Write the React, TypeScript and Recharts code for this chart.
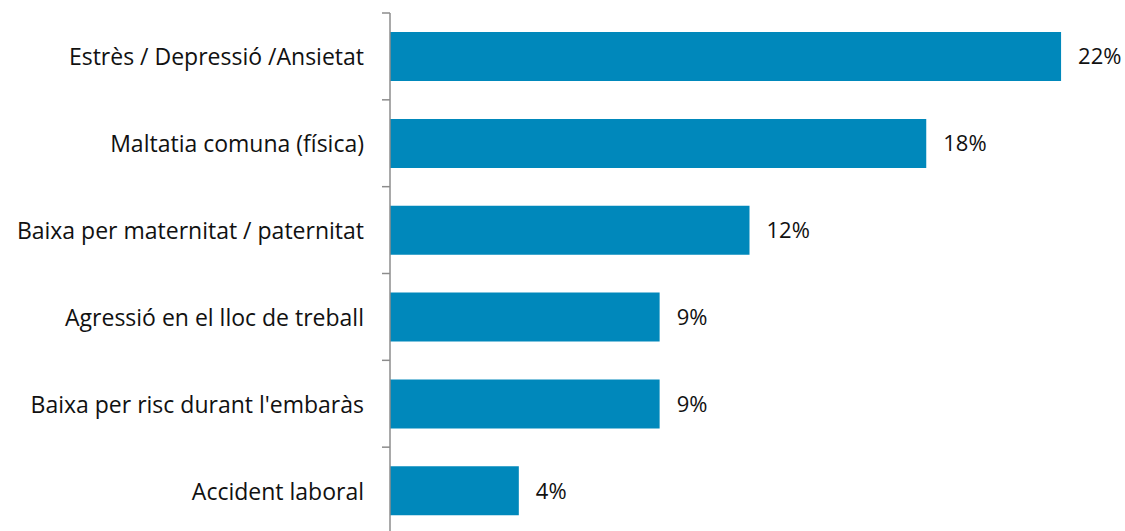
import { Bar, BarChart, LabelList, XAxis, YAxis } from 'recharts';

const categories = [
  'Estrès / Depressió /Ansietat',
  'Maltatia comuna (física)',
  'Baixa per maternitat / paternitat',
  'Agressió en el lloc de treball',
  "Baixa per risc durant l'embaràs",
  'Accident laboral',
];

const shares = [22.4, 17.9, 12.0, 9.0, 9.0, 4.3];

const data = categories.map((name, i) => ({ name, value: shares[i] }));

const WIDTH = 1125;
const HEIGHT = 534;
const TOP = 13;
const BAND = (HEIGHT - TOP) / categories.length;
const FONT = '"Open Sans", "Liberation Sans", sans-serif';
const FONT_SIZE = 23;

const CategoryTick = (props: any) => {
  const { x, y, payload, index } = props;
  const axisX = x + 26;
  return (
    <g>
      <line x1={axisX - 8} x2={axisX} y1={y - BAND / 2} y2={y - BAND / 2} stroke="#8c8c8c" strokeWidth={1.5} />
      {index === categories.length - 1 && (
        <line x1={axisX - 8} x2={axisX} y1={y + BAND / 2} y2={y + BAND / 2} stroke="#8c8c8c" strokeWidth={1.5} />
      )}
      <text x={x} y={y} dy={9} textAnchor="end" fill="#111" fontSize={FONT_SIZE} fontFamily={FONT}>
        {payload.value}
      </text>
    </g>
  );
};

export default function App() {
  return (
    <div style={{ position: 'absolute', left: 0, top: 0, width: WIDTH, height: 531, overflow: 'hidden', background: '#fff' }}>
      <BarChart
        width={WIDTH}
        height={HEIGHT}
        data={data}
        layout="vertical"
        margin={{ top: TOP, right: 16, bottom: 0, left: 0 }}
        barCategoryGap="22%"
      >
        <XAxis type="number" domain={[0, 24]} hide />
        <YAxis
          type="category"
          dataKey="name"
          width={390}
          axisLine={{ stroke: '#8c8c8c', strokeWidth: 1.5 }}
          tickLine={false}
          tickSize={0}
          tickMargin={26}
          tick={<CategoryTick />}
          interval={0}
        />
        <Bar dataKey="value" fill="#0088BB" isAnimationActive={false}>
          <LabelList
            dataKey="value"
            position="right"
            offset={17}
            formatter={(v: any) => `${Math.round(Number(v))}%`}
            fill="#111"
            fontSize={FONT_SIZE - 1}
            fontFamily={FONT}
          />
        </Bar>
      </BarChart>
    </div>
  );
}
